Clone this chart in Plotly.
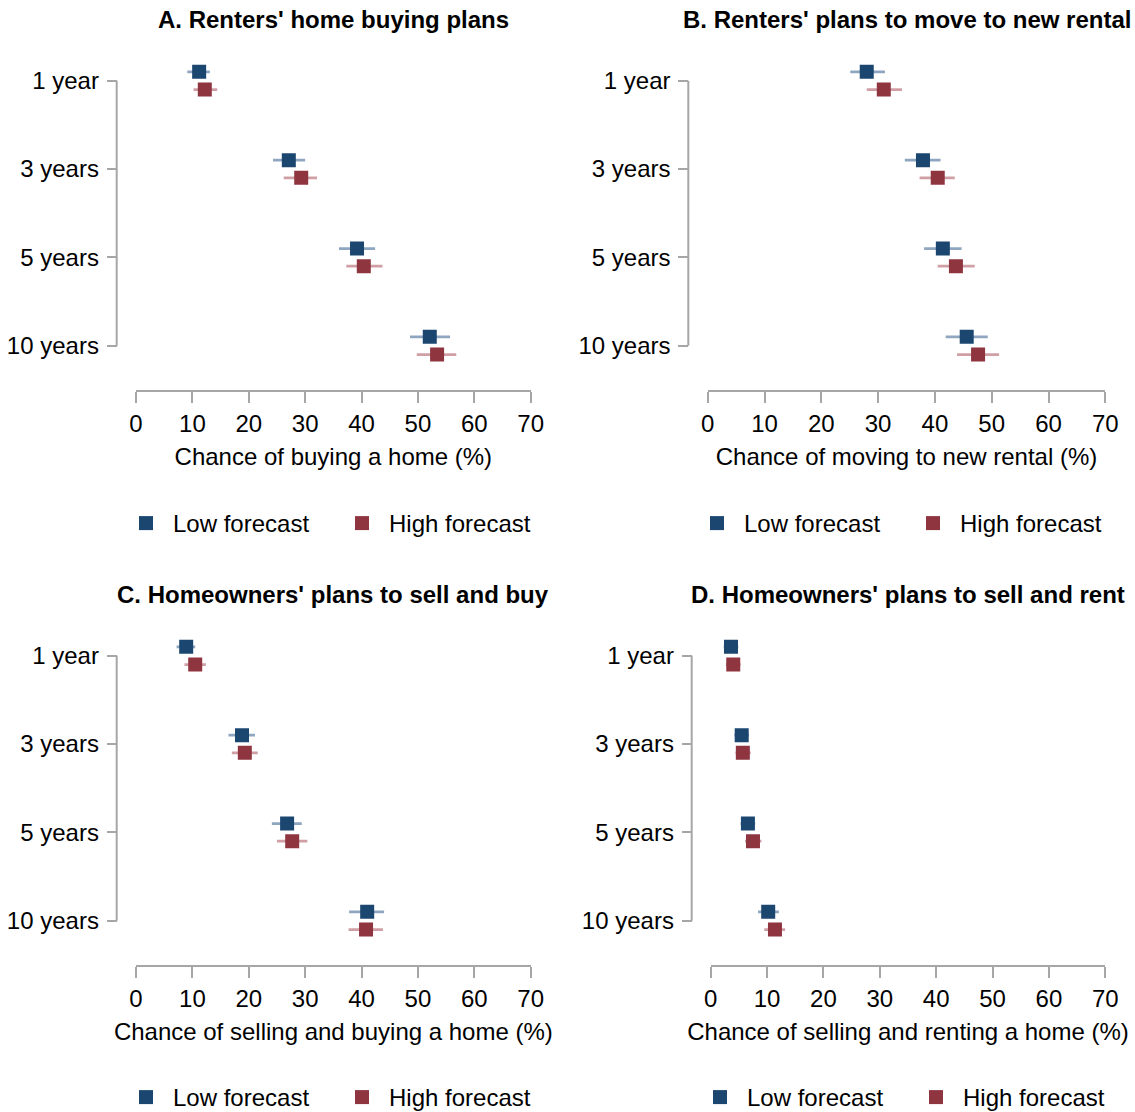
import plotly.graph_objects as go

# Planning horizons (rows of every panel)
horizons = ["1 year", "3 years", "5 years", "10 years"]
x_ticks = [0, 10, 20, 30, 40, 50, 60, 70]

# A. Renters' home buying plans: point estimate, lower and upper bound (%)
a_low = [11.2, 27.1, 39.2, 52.1]
a_low_lo = [9.1, 24.3, 36.0, 48.6]
a_low_hi = [13.1, 30.0, 42.4, 55.7]
a_high = [12.2, 29.3, 40.4, 53.4]
a_high_lo = [10.2, 26.2, 37.3, 49.8]
a_high_hi = [14.4, 32.1, 43.7, 56.8]

# B. Renters' plans to move to new rental
b_low = [28.0, 37.9, 41.4, 45.6]
b_low_lo = [25.1, 34.7, 38.1, 41.9]
b_low_hi = [31.2, 41.0, 44.7, 49.3]
b_high = [31.0, 40.5, 43.7, 47.6]
b_high_lo = [28.0, 37.3, 40.5, 43.9]
b_high_hi = [34.2, 43.5, 47.0, 51.3]

# C. Homeowners' plans to sell and buy
c_low = [8.9, 18.8, 26.8, 41.0]
c_low_lo = [7.2, 16.4, 24.1, 37.8]
c_low_hi = [10.5, 21.1, 29.4, 44.0]
c_high = [10.5, 19.3, 27.7, 40.8]
c_high_lo = [8.6, 17.0, 25.0, 37.7]
c_high_hi = [12.4, 21.6, 30.4, 43.8]

# D. Homeowners' plans to sell and rent
d_low = [3.6, 5.5, 6.6, 10.2]
d_low_lo = [2.3, 4.2, 5.3, 8.4]
d_low_hi = [4.9, 6.8, 7.9, 12.1]
d_high = [4.0, 5.7, 7.5, 11.4]
d_high_lo = [2.7, 4.4, 6.1, 9.5]
d_high_hi = [5.3, 7.1, 9.0, 13.2]

W, H = 1135, 1112
FONT = "Arial, Liberation Sans, sans-serif"
FS = 24
BLUE, RED = "#1B4670", "#8E3540"
BLUE_ERR, RED_ERR = "#8EA6BF", "#D09FA5"
AXIS = "#A6A6A6"
PAD = 0.25  # room above the first row and below the last row (in row units)

panels = [
    dict(title="A. Renters' home buying plans", xtitle="Chance of buying a home (%)",
         low=(a_low, a_low_lo, a_low_hi), high=(a_high, a_high_lo, a_high_hi),
         x0=136, x1=530.7, yax=116.7, top=80.7, bot=345.7, xline=390.7, leg=119, legy=523.5),
    dict(title="B. Renters' plans to move to new rental", xtitle="Chance of moving to new rental (%)",
         low=(b_low, b_low_lo, b_low_hi), high=(b_high, b_high_lo, b_high_hi),
         x0=707.7, x1=1105.3, yax=688.3, top=80.7, bot=345.7, xline=390.7, leg=690, legy=523.5),
    dict(title="C. Homeowners' plans to sell and buy", xtitle="Chance of selling and buying a home (%)",
         low=(c_low, c_low_lo, c_low_hi), high=(c_high, c_high_lo, c_high_hi),
         x0=136, x1=530.7, yax=116.7, top=655.7, bot=920.7, xline=965.7, leg=119, legy=1097.5),
    dict(title="D. Homeowners' plans to sell and rent", xtitle="Chance of selling and renting a home (%)",
         low=(d_low, d_low_lo, d_low_hi), high=(d_high, d_high_lo, d_high_hi),
         x0=710.7, x1=1105.3, yax=691.7, top=655.7, bot=920.7, xline=965.7, leg=693, legy=1097.5),
]

fig = go.Figure()
layout = dict(
    width=W, height=H,
    margin=dict(l=0, r=0, t=0, b=0, autoexpand=False),
    paper_bgcolor="white", plot_bgcolor="white",
    font=dict(family=FONT, size=FS, color="#000000"),
    annotations=[], shapes=[],
)

for i, p in enumerate(panels):
    n = "" if i == 0 else str(i + 1)
    xa, ya, lg = "x" + n, "y" + n, "legend" + n
    rows = list(range(len(horizons)))
    step = (p["bot"] - p["top"]) / (len(horizons) - 1)
    for name, (vals, lo, hi), off, col, ecol in [
        ("Low forecast", p["low"], -0.1, BLUE, BLUE_ERR),
        ("High forecast", p["high"], 0.1, RED, RED_ERR),
    ]:
        fig.add_trace(go.Scatter(
            x=vals, y=[r + off for r in rows], mode="markers", name=name,
            xaxis=xa, yaxis=ya, legend=lg,
            marker=dict(symbol="square", size=14, color=col, line=dict(width=0)),
            error_x=dict(type="data", symmetric=False,
                         array=[h - v for h, v in zip(hi, vals)],
                         arrayminus=[v - l for v, l in zip(vals, lo)],
                         color=ecol, thickness=2.8, width=0),
        ))
    layout["xaxis" + n] = dict(
        domain=[p["x0"] / W, p["x1"] / W], anchor="free", position=1 - p["xline"] / H,
        range=[0, 70], tickvals=x_ticks, showgrid=False, zeroline=False,
        showline=True, linecolor=AXIS, linewidth=2,
        ticks="outside", ticklen=11, tickwidth=2, tickcolor=AXIS,
        tickfont=dict(size=FS, color="#000000"),
        title=dict(text=p["xtitle"], standoff=12, font=dict(size=FS, color="#000000")),
    )
    # row axis: padded range so the offset markers stay inside the plotting area
    layout["yaxis" + n] = dict(
        domain=[1 - (p["bot"] + PAD * step) / H, 1 - (p["top"] - PAD * step) / H],
        anchor="free", position=p["yax"] / W,
        range=[len(horizons) - 1 + PAD, -PAD], tickvals=rows, ticktext=horizons,
        showgrid=False, zeroline=False, showline=False,
        ticks="outside", ticklen=10, tickwidth=2, tickcolor=AXIS,
        ticklabelstandoff=3,
        tickfont=dict(size=FS, color="#000000"),
    )
    # vertical axis line spanning first to last row
    layout["shapes"].append(dict(
        type="line", xref="paper", yref=ya, x0=p["yax"] / W, x1=p["yax"] / W,
        y0=0, y1=len(horizons) - 1, line=dict(color=AXIS, width=2), layer="below",
    ))
    layout[lg] = dict(
        orientation="h", x=p["leg"] / W, y=1 - p["legy"] / H, xanchor="left", yanchor="middle",
        bgcolor="rgba(0,0,0,0)", font=dict(size=FS, color="#000000"),
        itemwidth=44, entrywidth=157, entrywidthmode="pixels",
    )
    layout["annotations"].append(dict(
        text=p["title"], xref="paper", yref="paper",
        x=(p["x0"] + p["x1"]) / 2 / W, y=1 - (p["top"] - 61.5) / H,
        xanchor="center", yanchor="middle", showarrow=False,
        font=dict(size=FS, color="#000000", weight="bold"),
    ))

fig.update_layout(**layout)
fig.write_html("out.html")
